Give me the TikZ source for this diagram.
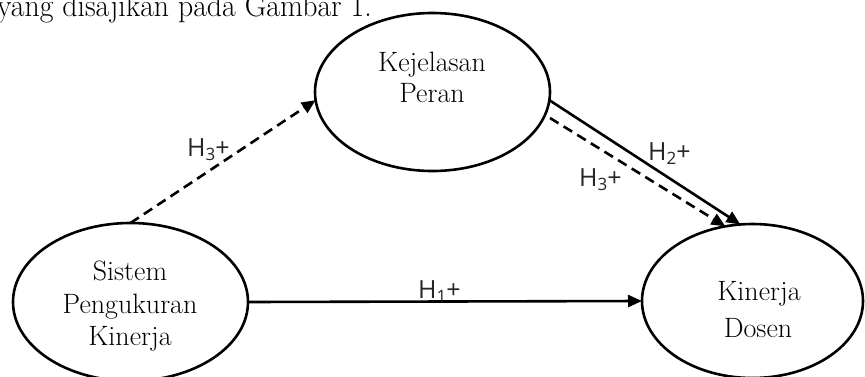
\documentclass[tikz,border=0pt]{standalone}
\usepackage{fontspec}
\newfontfamily\lblfont{Open Sans}
\usetikzlibrary{shapes.geometric,arrows.meta,calc}
\begin{document}
\begin{tikzpicture}[x=1pt,y=-1pt,
  ell/.style={ellipse,draw,line width=2.6pt,inner sep=0pt,outer sep=0pt},
  txt/.style={anchor=base,inner sep=0pt,font=\fontsize{28}{32}\selectfont},
  lbl/.style={anchor=base west,inner sep=0pt,font=\lblfont\fontsize{25}{28}\selectfont,text=black!85},
  conn/.style={line width=2.6pt,-{Triangle[length=14pt,width=12pt]}},
  dsh/.style={conn,dash pattern=on 10pt off 6pt}]
\useasboundingbox (0,0) rectangle (865,376);
\clip (0,0) rectangle (865,376);
% top cut text
\node[anchor=base east,inner sep=0pt] (top) at (372,16) {\scalebox{0.93}[1]{\fontsize{32}{36}\selectfont yang disajikan pada Gambar 1.}};
% ellipses
\node[ell,minimum width=235pt,minimum height=158pt] (k) at (432.5,92) {};
\node[ell,minimum width=235pt,minimum height=158pt] (s) at (130.5,302) {};
\node[ell,minimum width=221pt,minimum height=154pt] (d) at (752.5,301) {};
% texts
\node[txt] (k1) at (432,71) {Kejelasan};
\node[txt] (k2) at (432,102) {Peran};
\node[txt] (s1) at (130,280) {Sistem};
\node[txt] (s2) at (130,313) {Pengukuran};
\node[txt] (s3) at (130,345) {Kinerja};
\node[txt] (d1) at (759,300) {Kinerja};
\node[txt] (d2) at (758,337) {Dosen};
% connectors
\coordinate (kd) at ($(k.east)+(0,26)$);
\draw[dsh] (s.north) -- (k.184);
\draw[conn] (k.356) -- (d.99);
\draw[dsh] (kd) -- (d.110);
\draw[conn] (s.east) -- (d.west);
% labels
\node[lbl] (h3a) at (187,156) {H\raisebox{-0.3ex}{\fontsize{17}{17}\selectfont 3}+};
\node[lbl] (h2) at (648,160) {H\raisebox{-0.3ex}{\fontsize{17}{17}\selectfont 2}+};
\node[lbl] (h3b) at (579,186) {H\raisebox{-0.3ex}{\fontsize{17}{17}\selectfont 3}+};
\node[lbl] (h1) at (418,298) {H\raisebox{-0.3ex}{\fontsize{17}{17}\selectfont 1}+};
\end{tikzpicture}
\end{document}
